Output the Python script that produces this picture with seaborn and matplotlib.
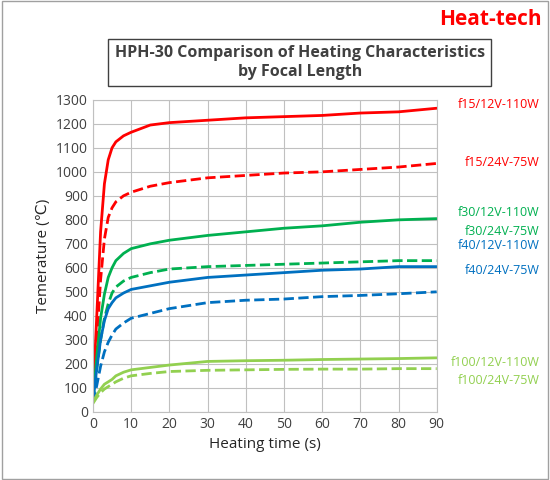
import matplotlib
matplotlib.use("Agg")
import matplotlib.pyplot as plt
import seaborn as sns
import pandas as pd
from matplotlib.patches import Rectangle

sns.set_style("white")
plt.rcParams['font.family'] = ['Open Sans', 'DejaVu Sans']

# data
t = [0, 1, 2, 3, 4, 5, 6, 8, 10, 15, 20, 30, 40, 50, 60, 70, 80, 90]
f15_12 = [60, 400, 750, 950, 1050, 1100, 1125, 1150, 1165, 1195, 1205, 1215, 1225, 1230, 1235, 1245, 1250, 1265]
f15_24 = [50, 300, 550, 720, 810, 850, 875, 900, 915, 940, 955, 975, 985, 995, 1000, 1010, 1020, 1035]
f30_12 = [50, 230, 390, 490, 560, 600, 630, 660, 680, 700, 715, 735, 750, 765, 775, 790, 800, 805]
f30_24 = [45, 180, 300, 390, 450, 495, 520, 545, 560, 580, 595, 605, 610, 615, 620, 625, 630, 630]
f40_12 = [45, 180, 300, 380, 430, 455, 475, 495, 510, 525, 540, 560, 570, 580, 590, 595, 605, 605]
f40_24 = [40, 110, 190, 250, 290, 320, 345, 370, 390, 410, 430, 455, 465, 470, 480, 485, 492, 500]
f100_12 = [40, 70, 95, 115, 125, 135, 150, 165, 175, 185, 195, 210, 213, 215, 218, 220, 222, 225]
f100_24 = [35, 60, 80, 95, 105, 115, 125, 140, 150, 160, 168, 173, 175, 177, 178, 178, 180, 180]

series = [
    ("f15/12V-110W", f15_12, "#ff0000", "-", 1280),
    ("f15/24V-75W", f15_24, "#ff0000", "--", 1040),
    ("f30/12V-110W", f30_12, "#00b050", "-", 830),
    ("f30/24V-75W", f30_24, "#00b050", "--", 750),
    ("f40/12V-110W", f40_12, "#0070c0", "-", 695),
    ("f40/24V-75W", f40_24, "#0070c0", "--", 590),
    ("f100/12V-110W", f100_12, "#92d050", "-", 205),
    ("f100/24V-75W", f100_24, "#92d050", "--", 130),
]

fig = plt.figure(figsize=(5.5, 4.8), dpi=100)
ax = fig.add_axes([0.169, 0.142, 0.625, 0.65])

for name, vals, color, ls, ly in series:
    df = pd.DataFrame({"t": t, "T": vals})
    sns.lineplot(data=df, x="t", y="T", ax=ax, color=color, linestyle=ls, linewidth=2)
    ax.text(117, ly, name, color=color, fontsize=9, ha="right", va="center", clip_on=False)

ax.set_xlim(0, 90)
ax.set_ylim(0, 1300)
ax.set_xticks(range(0, 91, 10))
ax.set_yticks(range(0, 1301, 100))
ax.grid(True, color="#c0c0c0", linewidth=0.8)
for s in ax.spines.values():
    s.set_color("#c0c0c0")
ax.tick_params(labelsize=10, colors="#404040", length=0)
ax.set_xlabel("Heating time (s)", fontsize=11)
ax.set_ylabel("Temerature (\u2103)", fontsize=11)

fig.text(0.545, 0.87, "HPH-30 Comparison of Heating Characteristics\nby Focal Length",
         ha="center", va="center", fontsize=11.5, fontweight="bold", color="#404040",
         bbox=dict(boxstyle="square,pad=0.4", fc="white", ec="#404040", lw=1))
fig.text(0.985, 0.96, "Heat-tech", ha="right", va="center", fontsize=15,
         fontweight="bold", color="#ff0000")
fig.add_artist(Rectangle((0.003, 0.003), 0.994, 0.994, transform=fig.transFigure,
                         fill=False, ec="#a0a0a0", lw=1))

fig.savefig("out.png", dpi=100)
